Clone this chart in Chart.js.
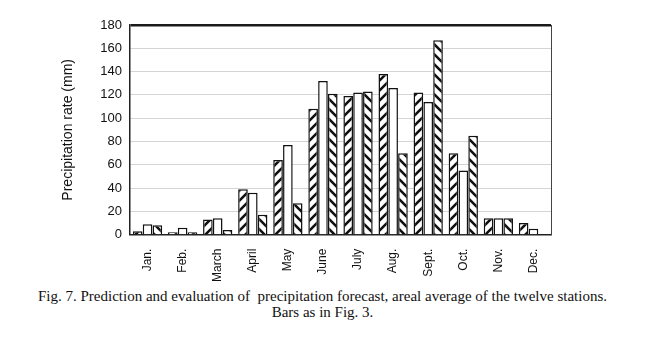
<!DOCTYPE html>
<html>
<head>
<meta charset="utf-8">
<script src="https://cdn.jsdelivr.net/npm/chart.js@4"></script>
<style>
  body { margin: 0; background: #fff; }
  #wrap { position: absolute; left: 0; top: 0; width: 645px; height: 288px; }
  #caption {
    position: absolute; left: 0; top: 288px; width: 645px;
    text-align: center; font-family: 'Liberation Serif', serif; font-size: 15px;
    line-height: 16px; color: #111;
  }
</style>
</head>
<body>
<div id="wrap"><canvas id="precipChart"></canvas></div>
<div id="caption">Fig. 7. Prediction and evaluation of&nbsp; precipitation forecast, areal average of the twelve stations.<br>Bars as in Fig. 3.</div>
<script>
const months = ['Jan.', 'Feb.', 'March', 'April', 'May', 'June', 'July', 'Aug.', 'Sept.', 'Oct.', 'Nov.', 'Dec.'];
const seriesA = [3, 2, 13, 39, 64, 108, 119, 138, 122, 70, 14, 10];
const seriesB = [9, 6, 14, 36, 77, 132, 122, 126, 114, 55, 14, 5];
const seriesC = [8, 2, 4, 17, 27, 121, 123, 70, 167, 85, 14, 0];
const yTicks = [0, 20, 40, 60, 80, 100, 120, 140, 160, 180];

// diagonal hatch fill, coarse like the scanned figure
function hatch(dir) {
    const s = 10;
    const c = document.createElement('canvas');
    c.width = s; c.height = s;
    const g = c.getContext('2d');
    g.fillStyle = '#fff';
    g.fillRect(0, 0, s, s);
    g.strokeStyle = '#111';
    g.lineWidth = 2.6;
    g.beginPath();
    if (dir > 0) {
        g.moveTo(0, s); g.lineTo(s, 0);
        g.moveTo(-3, 3); g.lineTo(3, -3);
        g.moveTo(s - 3, s + 3); g.lineTo(s + 3, s - 3);
    } else {
        g.moveTo(0, 0); g.lineTo(s, s);
        g.moveTo(-3, s - 3); g.lineTo(3, s + 3);
        g.moveTo(s - 3, -3); g.lineTo(s + 3, 3);
    }
    g.stroke();
    return g.createPattern(c, 'repeat');
}

const ctx = document.getElementById('precipChart').getContext('2d');

const barStyle = {
    borderColor: '#111',
    borderWidth: 1.5,
    borderSkipped: 'bottom',
    categoryPercentage: 0.84,
    barPercentage: 0.98
};

new Chart(ctx, {
    type: 'bar',
    data: {
        labels: months,
        datasets: [
            Object.assign({ label: 'A', data: seriesA, backgroundColor: hatch(1) }, barStyle),
            Object.assign({ label: 'B', data: seriesB, backgroundColor: '#fff' }, barStyle),
            Object.assign({ label: 'C', data: seriesC, backgroundColor: hatch(-1) }, barStyle)
        ]
    },
    options: {
        responsive: true,
        maintainAspectRatio: false,
        animation: false,
        layout: { padding: { left: 60, right: 86, top: 25, bottom: 0 } },
        plugins: { legend: { display: false }, tooltip: { enabled: false } },
        scales: {
            x: {
                grid: { display: false },
                border: { color: '#222', width: 1.5 },
                ticks: {
                    color: '#111',
                    font: { family: "'Liberation Sans', Arial, sans-serif", size: 12 },
                    minRotation: 90,
                    maxRotation: 90,
                    padding: 6
                }
            },
            y: {
                min: 0,
                max: 180,
                afterBuildTicks: (axis) => { axis.ticks = yTicks.map(v => ({ value: v })); },
                afterFit: (axis) => { axis.width = 70; },
                title: {
                    display: true,
                    text: 'Precipitation rate (mm)',
                    color: '#111',
                    font: { family: "'Liberation Sans', Arial, sans-serif", size: 14 },
                    padding: { top: 0, bottom: 0 }
                },
                ticks: {
                    color: '#111',
                    font: { family: "'Liberation Sans', Arial, sans-serif", size: 13 },
                    padding: 8
                },
                grid: {
                    drawTicks: false,
                    color: (c) => c.index === yTicks.length - 1 ? '#1a1a1a' : '#d4d4d4',
                    lineWidth: (c) => c.index === yTicks.length - 1 ? 2.5 : 1
                },
                border: { color: '#222', width: 1.5 }
            },
            yRight: {
                position: 'right',
                min: 0,
                max: 180,
                ticks: { display: false },
                grid: { display: false },
                border: { color: '#444', width: 1 }
            }
        }
    }
});
</script>
</body>
</html>
